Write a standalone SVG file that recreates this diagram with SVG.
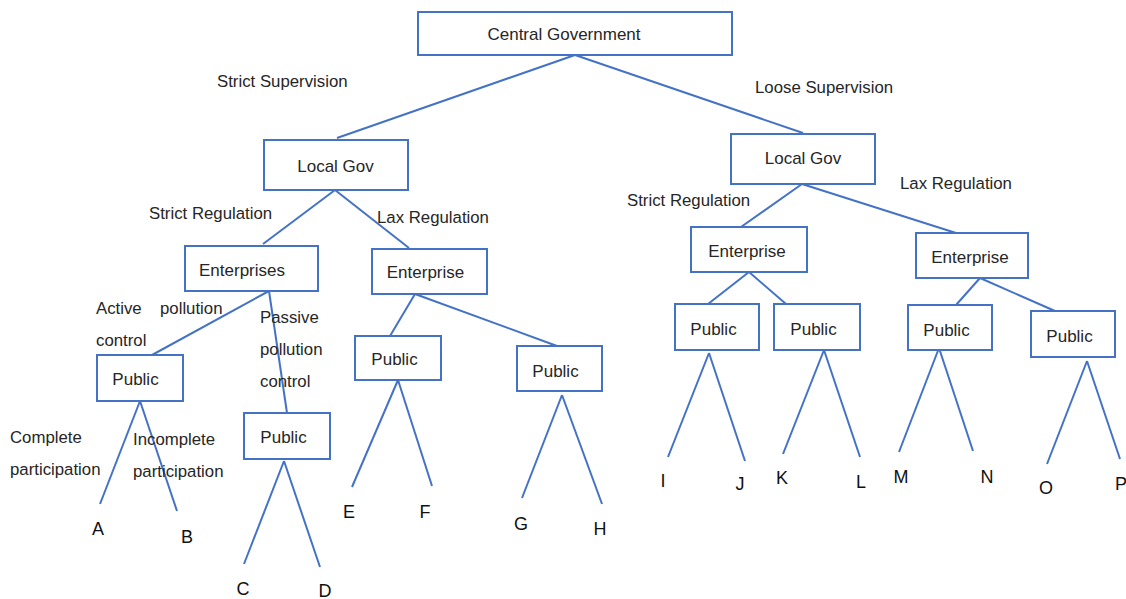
<svg xmlns="http://www.w3.org/2000/svg" width="1126" height="599" viewBox="0 0 1126 599">
<style>
.box{fill:#fff;stroke:#4472C4;stroke-width:2}
.ln{stroke:#4472C4;stroke-width:2;fill:none}
text{font-family:"Liberation Sans",Arial,sans-serif;fill:#262626}
.t{font-size:17px;text-anchor:middle}
.l{font-size:16.8px}
.leaf{font-size:18px;text-anchor:middle;fill:#111}
</style>
<rect width="1126" height="599" fill="#fff"/>
<g id="connectors">
<line class="ln" x1="575" y1="55" x2="337" y2="138"/>
<line class="ln" x1="575" y1="55" x2="803" y2="133"/>
<line class="ln" x1="335" y1="190" x2="263" y2="244"/>
<line class="ln" x1="335" y1="190" x2="409" y2="248"/>
<line class="ln" x1="269" y1="291" x2="152" y2="355"/>
<line class="ln" x1="269" y1="291" x2="287" y2="413"/>
<line class="ln" x1="415" y1="294" x2="390" y2="336"/>
<line class="ln" x1="415" y1="294" x2="557" y2="346"/>
<line class="ln" x1="140" y1="401" x2="100" y2="504"/>
<line class="ln" x1="140" y1="401" x2="177" y2="511"/>
<line class="ln" x1="284" y1="461" x2="244" y2="564"/>
<line class="ln" x1="284" y1="461" x2="320" y2="567"/>
<line class="ln" x1="398" y1="380" x2="352" y2="487"/>
<line class="ln" x1="398" y1="380" x2="432" y2="486"/>
<line class="ln" x1="562" y1="395" x2="522" y2="498"/>
<line class="ln" x1="562" y1="395" x2="602" y2="504"/>
<line class="ln" x1="802" y1="184" x2="741" y2="227"/>
<line class="ln" x1="802" y1="184" x2="956" y2="233"/>
<line class="ln" x1="749" y1="272" x2="708" y2="304"/>
<line class="ln" x1="749" y1="272" x2="786" y2="304"/>
<line class="ln" x1="980" y1="278" x2="956" y2="305"/>
<line class="ln" x1="980" y1="278" x2="1055" y2="311"/>
<line class="ln" x1="709" y1="353" x2="668" y2="457"/>
<line class="ln" x1="709" y1="353" x2="745" y2="461"/>
<line class="ln" x1="824" y1="350" x2="783" y2="454"/>
<line class="ln" x1="824" y1="350" x2="860" y2="457"/>
<line class="ln" x1="939" y1="348" x2="899" y2="452"/>
<line class="ln" x1="939" y1="348" x2="973" y2="451"/>
<line class="ln" x1="1087" y1="361" x2="1047" y2="464"/>
<line class="ln" x1="1087" y1="361" x2="1120" y2="459"/>
</g>
<g id="central"><rect class="box" x="418" y="12" width="314" height="43"/><text class="t" x="564" y="40">Central Government</text></g>
<g id="localL"><rect class="box" x="264" y="140" width="144" height="50"/><text class="t" x="335.5" y="172">Local Gov</text></g>
<g id="localR"><rect class="box" x="731" y="134" width="144" height="50"/><text class="t" x="803" y="164">Local Gov</text></g>
<g id="entL"><rect class="box" x="185" y="246" width="133" height="45"/><text class="t" x="242" y="276">Enterprises</text></g>
<g id="entM"><rect class="box" x="372" y="249" width="115" height="45"/><text class="t" x="425.5" y="278">Enterprise</text></g>
<g id="entRL"><rect class="box" x="691" y="227" width="116" height="45"/><text class="t" x="747" y="257">Enterprise</text></g>
<g id="entRR"><rect class="box" x="916" y="233" width="112" height="45"/><text class="t" x="970" y="263">Enterprise</text></g>
<g id="pubAB"><rect class="box" x="97" y="355" width="86" height="46"/><text class="t" x="135.5" y="385">Public</text></g>
<g id="pubCD"><rect class="box" x="244" y="413" width="86" height="46"/><text class="t" x="283.5" y="443">Public</text></g>
<g id="pubEF"><rect class="box" x="355" y="336" width="86" height="44"/><text class="t" x="394.5" y="365">Public</text></g>
<g id="pubGH"><rect class="box" x="517" y="346" width="85" height="45"/><text class="t" x="555.5" y="377">Public</text></g>
<g id="pubIJ"><rect class="box" x="675" y="304" width="84" height="46"/><text class="t" x="713.5" y="335">Public</text></g>
<g id="pubKL"><rect class="box" x="774" y="304" width="86" height="46"/><text class="t" x="813.5" y="335">Public</text></g>
<g id="pubMN"><rect class="box" x="908" y="305" width="84" height="45"/><text class="t" x="946.5" y="336">Public</text></g>
<g id="pubOP"><rect class="box" x="1031" y="311" width="84" height="46"/><text class="t" x="1069.5" y="342">Public</text></g>
<g id="labels">
<text class="l" x="217" y="87">Strict Supervision</text>
<text class="l" x="755" y="93">Loose Supervision</text>
<text class="l" x="149" y="219">Strict Regulation</text>
<text class="l" x="377" y="223">Lax Regulation</text>
<text class="l" x="627" y="206">Strict Regulation</text>
<text class="l" x="900" y="189">Lax Regulation</text>
<text class="l" x="96" y="314">Active</text>
<text class="l" x="160" y="314">pollution</text>
<text class="l" x="96" y="346">control</text>
<text class="l" x="260" y="323">Passive</text>
<text class="l" x="260" y="355">pollution</text>
<text class="l" x="260" y="387">control</text>
<text class="l" x="10" y="443">Complete</text>
<text class="l" x="10" y="475">participation</text>
<text class="l" x="133" y="445">Incomplete</text>
<text class="l" x="133" y="477">participation</text>
</g>
<g id="leaves">
<text class="leaf" x="98" y="535">A</text>
<text class="leaf" x="187" y="543">B</text>
<text class="leaf" x="243" y="595">C</text>
<text class="leaf" x="325" y="597">D</text>
<text class="leaf" x="349" y="518">E</text>
<text class="leaf" x="425" y="518">F</text>
<text class="leaf" x="521" y="530">G</text>
<text class="leaf" x="600" y="535">H</text>
<text class="leaf" x="663" y="487">I</text>
<text class="leaf" x="740" y="490">J</text>
<text class="leaf" x="782" y="484">K</text>
<text class="leaf" x="861" y="488">L</text>
<text class="leaf" x="901" y="483">M</text>
<text class="leaf" x="987" y="483">N</text>
<text class="leaf" x="1046" y="494">O</text>
<text class="leaf" x="1121" y="490">P</text>
</g>
</svg>
